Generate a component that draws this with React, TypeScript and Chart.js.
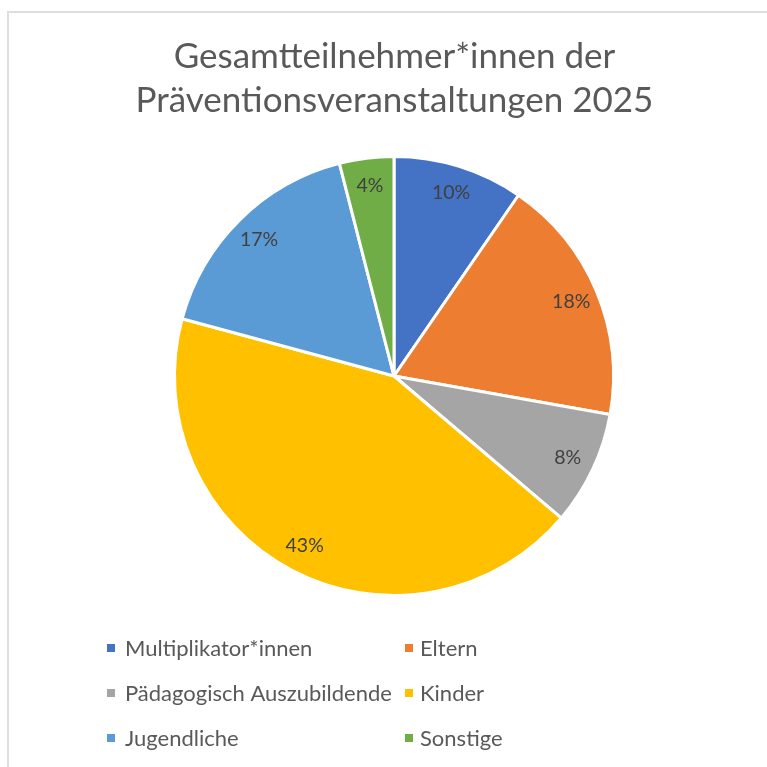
import { useEffect, useRef } from "react";
import { Chart, registerables } from "chart.js";

Chart.register(...registerables);

const titleLines = ["Gesamtteilnehmer*innen der", "Präventionsveranstaltungen 2025"];
const categories = [
  "Multiplikator*innen",
  "Eltern",
  "Pädagogisch Auszubildende",
  "Kinder",
  "Jugendliche",
  "Sonstige",
];
const values = [240, 455, 210, 1075, 420, 100];
const colors = ["#4472C4", "#ED7D31", "#A5A5A5", "#FFC000", "#5B9BD5", "#70AD47"];

const FONT = "Lato, 'Open Sans', sans-serif";

const decorPlugin = {
  id: "decor",
  afterDatasetsDraw(chart: any) {
    const ctx = chart.ctx as CanvasRenderingContext2D;
    const meta = chart.getDatasetMeta(0);
    const total = values.reduce((a, b) => a + b, 0);
    ctx.save();
    // data labels
    ctx.fillStyle = "#404040";
    ctx.font = `19.5px ${FONT}`;
    ctx.textAlign = "center";
    ctx.textBaseline = "middle";
    meta.data.forEach((arc: any, i: number) => {
      const { x, y, startAngle, endAngle, outerRadius } = arc.getProps(
        ["x", "y", "startAngle", "endAngle", "outerRadius"],
        true
      );
      const mid = (startAngle + endAngle) / 2;
      const r = outerRadius * 0.875;
      const pct = Math.round((values[i] / total) * 100) + "%";
      ctx.fillText(pct, x + Math.cos(mid) * r, y + Math.sin(mid) * r);
    });
    // title
    ctx.fillStyle = "#595959";
    ctx.font = `35px ${FONT}`;
    ctx.fillText(titleLines[0], 394.5, 57);
    ctx.fillText(titleLines[1], 394.5, 101);
    // legend
    ctx.font = `22px ${FONT}`;
    ctx.textAlign = "left";
    const rowsY = [648, 693, 738];
    const markerX = [107, 405];
    const textX = [125, 420];
    categories.forEach((c, i) => {
      const col = i % 2;
      const row = Math.floor(i / 2);
      const yy = rowsY[row];
      ctx.fillStyle = colors[i];
      ctx.fillRect(markerX[col], yy - 4, 8, 8);
      ctx.fillStyle = "#595959";
      ctx.fillText(c, textX[col], yy + 1);
    });
    ctx.restore();
  },
};

export default function App() {
  const ref = useRef<HTMLCanvasElement | null>(null);
  useEffect(() => {
    if (!ref.current) return;
    const chart = new Chart(ref.current, {
      type: "pie",
      data: {
        labels: categories,
        datasets: [
          {
            data: values,
            backgroundColor: colors,
            borderColor: "#ffffff",
            borderWidth: 3,
          },
        ],
      },
      options: {
        responsive: false,
        animation: false,
        devicePixelRatio: 1,
        layout: { padding: { left: 173, right: 152, top: 155, bottom: 170 } },
        plugins: {
          legend: { display: false },
          tooltip: { enabled: false },
          title: { display: false },
        },
      },
      plugins: [decorPlugin],
    });
    return () => chart.destroy();
  }, []);
  return (
    <div style={{ position: "absolute", left: 0, top: 0, width: 767, height: 767, overflow: "hidden", background: "#fff" }}>
      <div
        style={{
          position: "absolute",
          left: 7,
          top: 11,
          width: 900,
          height: 900,
          borderLeft: "2px solid #dedede",
          borderTop: "2px solid #dedede",
        }}
      />
      <canvas ref={ref} width={767} height={767} style={{ position: "absolute", left: 0, top: 0 }} />
    </div>
  );
}
